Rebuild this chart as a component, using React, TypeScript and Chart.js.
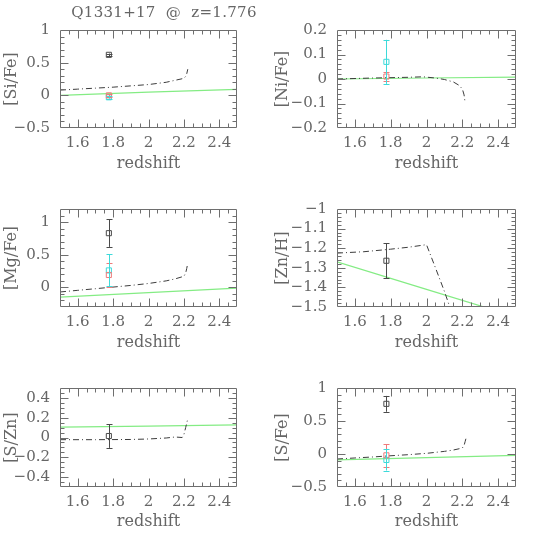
import React, { useEffect, useRef } from "react";
import { Chart, registerables } from "chart.js";
Chart.register(...registerables);

const TITLE = "Q1331+17  @  z=1.776";
const X_LABEL = "redshift";
const Z_ABS = 1.776;
const X_MIN = 1.5;
const X_MAX = 2.5;
const redshiftTicks = [1.6, 1.8, 2, 2.2, 2.4];

// observed series order: black, red, cyan (null = not plotted)
// [Si/Fe]
const siFeModelZ = [1.5, 1.6, 1.7, 1.8, 1.9, 2.0, 2.1, 2.15, 2.2, 2.21, 2.216, 2.222];
const siFeModel = [0.08, 0.095, 0.11, 0.125, 0.145, 0.165, 0.2, 0.23, 0.26, 0.29, 0.33, 0.4];
const siFeSolarZ = [1.5, 2.0, 2.5];
const siFeSolar = [0.0, 0.05, 0.09];
const siFeObs = [0.62, 0.0, -0.03];
const siFeErr = [0.02, 0.02, 0.02];

// [Ni/Fe]
const niFeModelZ = [1.5, 1.7, 1.9, 1.98, 2.05, 2.1, 2.15, 2.18, 2.2, 2.21, 2.215];
const niFeModel = [0.0, 0.004, 0.007, 0.009, 0.004, -0.002, -0.012, -0.025, -0.04, -0.065, -0.093];
const niFeSolarZ = [1.5, 2.0, 2.5];
const niFeSolar = [0.0, 0.004, 0.008];
const niFeObs = [null, 0.01, 0.07];
const niFeErr = [null, 0.02, 0.09];

// [Mg/Fe]
const mgFeModelZ = [1.5, 1.6, 1.7, 1.78, 1.9, 2.0, 2.1, 2.15, 2.2, 2.21, 2.216, 2.222];
const mgFeModel = [-0.07, -0.045, -0.02, 0.0, 0.03, 0.06, 0.1, 0.13, 0.17, 0.22, 0.29, 0.37];
const mgFeSolarZ = [1.5, 2.0, 2.5];
const mgFeSolar = [-0.15, -0.08, -0.01];
const mgFeObs = [0.83, 0.19, 0.26];
const mgFeErr = [0.21, 0.18, 0.245];

// [Zn/H]
const znHModelZ = [1.5, 1.65, 1.8, 1.9, 2.0, 2.05, 2.1, 2.13];
const znHModel = [-1.225, -1.218, -1.205, -1.195, -1.182, -1.3, -1.42, -1.5];
const znHSolarZ = [1.5, 2.0, 2.5];
const znHSolar = [-1.27, -1.41, -1.55];
const znHObs = [-1.264, null, null];
const znHErr = [0.09, null, null];

// [S/Zn]
const sZnModelZ = [1.5, 1.7, 1.9, 2.0, 2.1, 2.15, 2.19, 2.2, 2.21, 2.222];
const sZnModel = [-0.022, -0.022, -0.02, -0.015, -0.005, 0.005, 0.0, 0.03, 0.1, 0.19];
const sZnSolarZ = [1.5, 2.0, 2.5];
const sZnSolar = [0.104, 0.115, 0.127];
const sZnObs = [0.015, null, null];
const sZnErr = [0.12, null, null];

// [S/Fe]
const sFeModelZ = [1.5, 1.6, 1.7, 1.78, 1.9, 2.0, 2.1, 2.15, 2.2, 2.21, 2.216, 2.222];
const sFeModel = [-0.076, -0.06, -0.045, -0.03, -0.01, 0.01, 0.04, 0.06, 0.09, 0.13, 0.19, 0.25];
const sFeSolarZ = [1.5, 2.0, 2.5];
const sFeSolar = [-0.09, -0.055, -0.02];
const sFeObs = [0.76, -0.02, -0.09];
const sFeErr = [0.12, 0.17, 0.16];

const BLACK = "#4a4a4a";
const RED = "#f07a7a";
const CYAN = "#3ddada";
const GREEN = "#84ec84";
const MODEL = "#3c3c3c";
const BOX = "#6e6e6e";
const TEXT = "#666666";
const FONT = "'DejaVu Serif', serif";
const seriesColors = [BLACK, RED, CYAN];

const COLS = [
  { left: 0, width: 270, areaLeft: 60, areaRight: 237, titlePad: 2 },
  { left: 270, width: 275, areaLeft: 67, areaRight: 246, titlePad: 3 },
];
const ROWS = [
  { top: 0, height: 180, areaTop: 30, areaBottom: 128 },
  { top: 179, height: 180, areaTop: 30, areaBottom: 128 },
  { top: 358, height: 180, areaTop: 30, areaBottom: 129 },
];

const panels = [
  { col: 0, row: 0, ylabel: "[Si/Fe]", ymin: -0.5, ymax: 1, yticks: [-0.5, 0, 0.5, 1], yminor: 0.1, modelZ: siFeModelZ, model: siFeModel, solarZ: siFeSolarZ, solar: siFeSolar, obs: siFeObs, err: siFeErr },
  { col: 1, row: 0, ylabel: "[Ni/Fe]", ymin: -0.2, ymax: 0.2, yticks: [-0.2, -0.1, 0, 0.1, 0.2], yminor: 0.02, modelZ: niFeModelZ, model: niFeModel, solarZ: niFeSolarZ, solar: niFeSolar, obs: niFeObs, err: niFeErr },
  { col: 0, row: 1, ylabel: "[Mg/Fe]", ymin: -0.3, ymax: 1.2, yticks: [0, 0.5, 1], yminor: 0.1, modelZ: mgFeModelZ, model: mgFeModel, solarZ: mgFeSolarZ, solar: mgFeSolar, obs: mgFeObs, err: mgFeErr },
  { col: 1, row: 1, ylabel: "[Zn/H]", ymin: -1.5, ymax: -1, yticks: [-1.5, -1.4, -1.3, -1.2, -1.1, -1], yminor: 0.02, modelZ: znHModelZ, model: znHModel, solarZ: znHSolarZ, solar: znHSolar, obs: znHObs, err: znHErr },
  { col: 0, row: 2, ylabel: "[S/Zn]", ymin: -0.5, ymax: 0.5, yticks: [-0.4, -0.2, 0, 0.2, 0.4], yminor: 0.05, modelZ: sZnModelZ, model: sZnModel, solarZ: sZnSolarZ, solar: sZnSolar, obs: sZnObs, err: sZnErr },
  { col: 1, row: 2, ylabel: "[S/Fe]", ymin: -0.5, ymax: 1, yticks: [-0.5, 0, 0.5, 1], yminor: 0.1, modelZ: sFeModelZ, model: sFeModel, solarZ: sFeSolarZ, solar: sFeSolar, obs: sFeObs, err: sFeErr },
];

function fmt(v: number) {
  const r = Math.round(v * 100) / 100;
  return String(r).replace("-", "\u2212");
}

const errorBarPlugin = {
  id: "errorBars",
  afterDatasetsDraw(chart: any) {
    const ctx = chart.ctx;
    const xs = chart.scales.x;
    const ys = chart.scales.y;
    ctx.save();
    chart.data.datasets.forEach((ds: any) => {
      if (ds.err == null) return;
      ds.data.forEach((pt: any) => {
        const x = Math.round(xs.getPixelForValue(pt.x)) + 0.5;
        const y1 = ys.getPixelForValue(pt.y + ds.err);
        const y2 = ys.getPixelForValue(pt.y - ds.err);
        ctx.strokeStyle = ds.borderColor;
        ctx.lineWidth = 1;
        ctx.beginPath();
        ctx.moveTo(x, y1);
        ctx.lineTo(x, y2);
        ctx.moveTo(x - 3, Math.round(y1) + 0.5);
        ctx.lineTo(x + 3, Math.round(y1) + 0.5);
        ctx.moveTo(x - 3, Math.round(y2) + 0.5);
        ctx.lineTo(x + 3, Math.round(y2) + 0.5);
        ctx.stroke();
      });
    });
    ctx.restore();
  },
};

const boxPlugin = {
  id: "pgBox",
  afterDraw(chart: any, _args: any, opts: any) {
    const ctx = chart.ctx;
    const { left, right, top, bottom } = chart.chartArea;
    const xs = chart.scales.x;
    const ys = chart.scales.y;
    const L = Math.round(left) + 0.5;
    const R = Math.round(right) - 0.5;
    const T = Math.round(top) + 0.5;
    const B = Math.round(bottom) - 0.5;
    ctx.save();
    ctx.strokeStyle = BOX;
    ctx.lineWidth = 1;
    ctx.beginPath();
    ctx.rect(L, T, R - L, B - T);
    const major = 8;
    const minor = 4;
    const eps = 1e-6;
    const nx = Math.round((X_MAX - X_MIN) / 0.05);
    for (let i = 1; i < nx; i++) {
      const v = X_MIN + i * 0.05;
      const isMajor = redshiftTicks.some((t) => Math.abs(t - v) < eps);
      const len = isMajor ? major : minor;
      const px = Math.round(xs.getPixelForValue(v)) + 0.5;
      ctx.moveTo(px, B);
      ctx.lineTo(px, B - len);
      ctx.moveTo(px, T);
      ctx.lineTo(px, T + len);
    }
    const step = opts.yminor;
    const ny = Math.round((opts.ymax - opts.ymin) / step);
    for (let i = 1; i < ny; i++) {
      const v = opts.ymin + i * step;
      const isMajor = opts.yticks.some((t: number) => Math.abs(t - v) < eps);
      const len = isMajor ? major : minor;
      const py = Math.round(ys.getPixelForValue(v)) + 0.5;
      ctx.moveTo(L, py);
      ctx.lineTo(L + len, py);
      ctx.moveTo(R, py);
      ctx.lineTo(R - len, py);
    }
    ctx.stroke();
    ctx.restore();
  },
};

function Panel({ p }: { p: any }) {
  const ref = useRef<HTMLCanvasElement>(null);
  const col = COLS[p.col];
  const row = ROWS[p.row];
  useEffect(() => {
    const datasets: any[] = [];
    p.obs.forEach((v: number | null, i: number) => {
      if (v === null) return;
      datasets.push({
        data: [{ x: Z_ABS, y: v }],
        err: p.err[i],
        borderColor: seriesColors[i],
        backgroundColor: "rgba(0,0,0,0)",
        pointStyle: "rect",
        pointRadius: 3.6,
        pointHoverRadius: 3.6,
        borderWidth: 1,
        showLine: false,
      });
    });
    datasets.push({
      data: p.modelZ.map((z: number, i: number) => ({ x: z, y: p.model[i] })),
      showLine: true,
      borderColor: MODEL,
      borderWidth: 1,
      borderDash: [6, 3, 1, 3],
      pointRadius: 0,
      pointHoverRadius: 0,
      tension: 0,
    });
    datasets.push({
      data: p.solarZ.map((z: number, i: number) => ({ x: z, y: p.solar[i] })),
      showLine: true,
      borderColor: GREEN,
      borderWidth: 1.2,
      pointRadius: 0,
      pointHoverRadius: 0,
      tension: 0,
    });
    const tickFont = { family: FONT, size: 15 };
    const titleFont = { family: FONT, size: 16 };
    const chart = new Chart(ref.current as HTMLCanvasElement, {
      type: "scatter",
      data: { datasets },
      options: {
        animation: false,
        responsive: false,
        devicePixelRatio: 1,
        events: [],
        layout: {
          padding: { top: row.areaTop, left: 0, right: col.width - col.areaRight, bottom: 0 },
        },
        plugins: {
          legend: { display: false },
          tooltip: { enabled: false },
          title: { display: false },
          pgBox: { ymin: p.ymin, ymax: p.ymax, yticks: p.yticks, yminor: p.yminor },
        } as any,
        scales: {
          x: {
            type: "linear",
            min: X_MIN,
            max: X_MAX,
            grid: { display: false, drawTicks: false },
            border: { display: false },
            afterBuildTicks: (s: any) => {
              s.ticks = redshiftTicks.map((v) => ({ value: v }));
            },
            afterFit: (s: any) => {
              s.height = row.height - row.areaBottom;
            },
            ticks: { callback: (v: any) => fmt(Number(v)), color: TEXT, font: tickFont, padding: 6, maxRotation: 0, autoSkip: false },
            title: { display: true, text: X_LABEL, color: TEXT, font: titleFont, padding: { top: 0, bottom: 7 } },
          },
          y: {
            type: "linear",
            min: p.ymin,
            max: p.ymax,
            grid: { display: false, drawTicks: false },
            border: { display: false },
            afterBuildTicks: (s: any) => {
              s.ticks = p.yticks.map((v: number) => ({ value: v }));
            },
            afterFit: (s: any) => {
              s.width = col.areaLeft;
            },
            ticks: { callback: (v: any) => fmt(Number(v)), color: TEXT, font: tickFont, padding: 10, autoSkip: false },
            title: { display: true, text: p.ylabel, color: TEXT, font: titleFont, padding: { top: col.titlePad, bottom: 0 } },
          },
        },
      },
      plugins: [errorBarPlugin, boxPlugin],
    } as any);
    return () => chart.destroy();
  }, []);
  return (
    <canvas
      ref={ref}
      width={col.width}
      height={row.height}
      style={{ position: "absolute", left: col.left, top: row.top, width: col.width, height: row.height }}
    />
  );
}

export default function App() {
  return (
    <div style={{ position: "fixed", left: 0, top: 0, width: 545, height: 545, background: "#fff", overflow: "hidden" }}>
      {panels.map((p, i) => (
        <Panel key={i} p={p} />
      ))}
      <div
        style={{
          position: "absolute",
          left: 58,
          top: 3,
          width: 212,
          textAlign: "center",
          font: `15px ${FONT}`,
          lineHeight: "18px",
          color: TEXT,
          whiteSpace: "pre",
          letterSpacing: "0.3px",
        }}
      >
        {TITLE}
      </div>
    </div>
  );
}
